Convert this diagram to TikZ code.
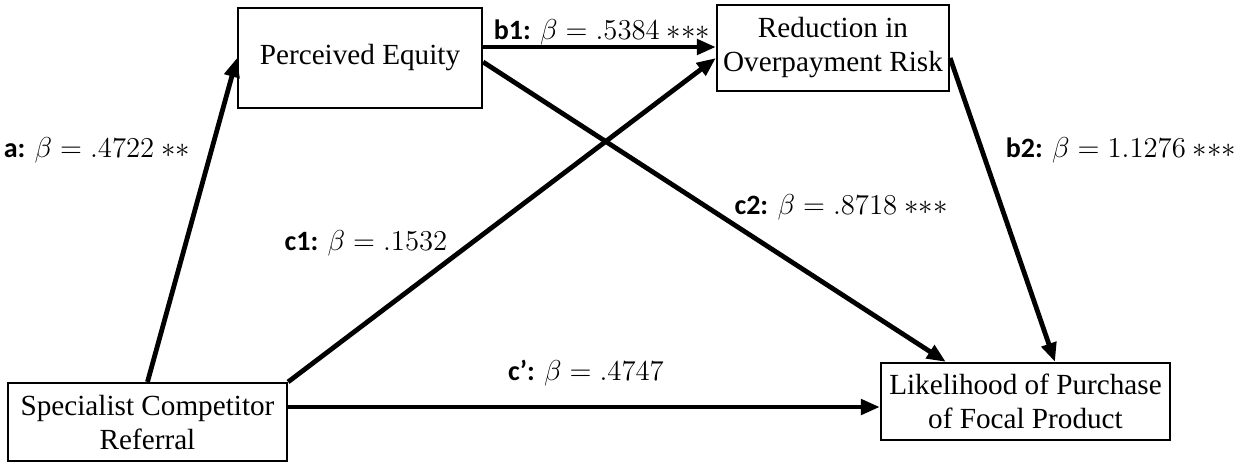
\documentclass[tikz,border=0pt]{standalone}
\usepackage{fontspec}
\setmainfont{Liberation Serif}
\newfontfamily\labfont{Carlito}
\usetikzlibrary{arrows.meta,calc}
\tikzset{
  box/.style={draw, line width=1.1pt, align=center, inner sep=0pt,
    font=\fontsize{14.6}{17}\selectfont},
  arr/.style={line width=2.4pt, -{Triangle[length=9.5pt,width=7.5pt]}},
  lab/.style={inner sep=0pt, font=\fontsize{14}{16}\selectfont}
}
\newcommand{\lb}[1]{{\labfont\bfseries #1}}
\newcommand{\stars}[1]{\mathord{\ast}\ifnum#1>1 \mathord{\ast}\fi\ifnum#1>2 \mathord{\ast}\fi}
\begin{document}
\begin{tikzpicture}[x=0.5pt,y=-0.5pt]
\useasboundingbox (0,0) rectangle (1246,463);
\node[box, minimum width=122pt, minimum height=50pt] (pe) at (360,58) {Perceived Equity};
\node[box, minimum width=116pt, minimum height=43pt] (red) at (833,48) {Reduction in\\Overpayment Risk};
\node[box, minimum width=139.5pt, minimum height=39pt] (spec) at (147.5,422) {Specialist Competitor\\Referral};
\node[box, minimum width=144.5pt, minimum height=38.5pt] (like) at (1025.5,401.5) {Likelihood of Purchase\\of Focal Product};
\coordinate (cpy) at (0,407);
% connectors
\draw[arr] (spec.north) -- (pe.west);
\draw[arr] ([shift={(0,-11)}]pe.east) -- ([shift={(0,-1)}]red.west);
\draw[arr] ([shift={(0,4)}]pe.east) -- ([shift={(66,0)}]like.north west);
\draw[arr] (spec.north east) -- ([shift={(0,10)}]red.west);
\draw[arr] ([shift={(0,10)}]red.east) -- ([shift={(29.5,0)}]like.north);
\draw[arr] (spec.east |- cpy) -- (like.west |- cpy);
% labels
\node[lab] (la) at (97,150) {\lb{a:} $\beta = .4722\ \stars{2}$};
\node[lab] (lb1) at (602,32) {\lb{b1:} $\beta = .5384\ \stars{3}$};
\node[lab] (lb2) at (1121,150) {\lb{b2:} $\beta = 1.1276\ \stars{3}$};
\node[lab] (lc1) at (366,243) {\lb{c1:} $\beta = .1532$};
\node[lab] (lc2) at (841,207) {\lb{c2:} $\beta = .8718\ \stars{3}$};
\node[lab] (lcp) at (586,373) {\lb{c’:} $\beta = .4747$};
\end{tikzpicture}
\end{document}
